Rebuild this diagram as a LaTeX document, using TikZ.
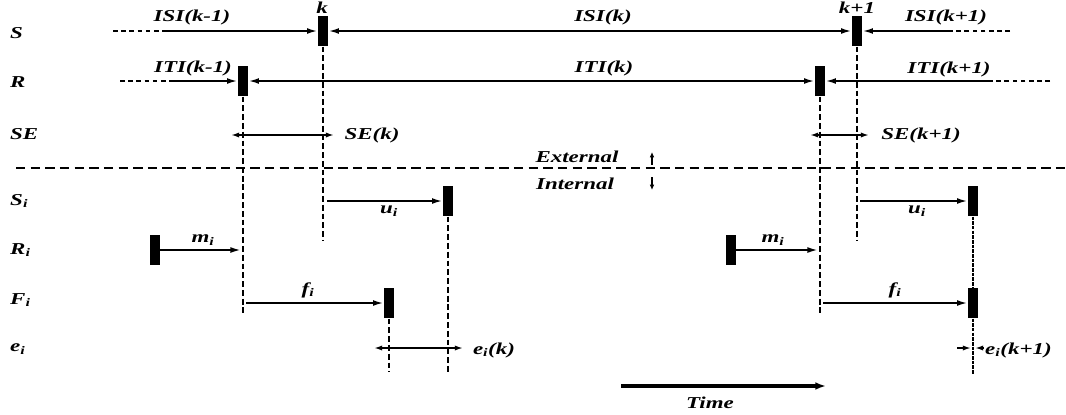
\documentclass[tikz,border=0pt]{standalone}
\usepackage{fontspec}
\setmainfont{Liberation Serif}
\newfontfamily\lblfont[FakeStretch=1.38]{Liberation Serif}
\usetikzlibrary{arrows.meta}
\newcommand\sbi{\textsubscript{i}}
\tikzset{
 lbl/.style={font=\lblfont\bfseries\itshape\fontsize{14.2}{16}\selectfont, inner sep=0pt},
 bar/.style={fill=black, draw=none, minimum width=0.31cm, minimum height=0.92cm, inner sep=0pt},
 arr/.style={line width=1.6pt, -{Latex[length=9pt,width=5pt]}},
 dbl/.style={line width=1.6pt, {Latex[length=9pt,width=5pt]}-{Latex[length=9pt,width=5pt]}},
 sdbl/.style={line width=1.6pt, {Latex[length=7pt,width=4.5pt]}-{Latex[length=7pt,width=4.5pt]}},
 sarr/.style={line width=1.6pt, -{Latex[length=7pt,width=4.5pt]}},
 ext/.style={line width=1.3pt, dash pattern=on 4pt off 3pt},
 vdash/.style={line width=1.5pt, dash pattern=on 5pt off 2.5pt},
 ddash/.style={line width=1.5pt, dash pattern=on 3pt off 1pt},
 sep/.style={line width=2.1pt, dash pattern=on 8pt off 4.5pt},
}
\begin{document}
\begin{tikzpicture}[x=0.03cm,y=-0.03cm]
\useasboundingbox (0,0) rectangle (1066,414);
% row labels
\node[lbl,anchor=west] (lS) at (10,33) {S};
\node[lbl,anchor=west] (lR) at (10,82) {R};
\node[lbl,anchor=west] (lSE) at (10,134) {SE};
\node[lbl,anchor=west] (lSi) at (10,201) {S\sbi};
\node[lbl,anchor=west] (lRi) at (10,250) {R\sbi};
\node[lbl,anchor=west] (lFi) at (10,300) {F\sbi};
\node[lbl,anchor=west] (lei) at (10,349) {e\sbi};
% markers
\node[bar] (sk) at (323,31) {};
\node[bar] (sk1) at (857,31) {};
\node[bar] (rk) at (243,81) {};
\node[bar] (rk1) at (820,81) {};
\node[bar] (si) at (448,201) {};
\node[bar] (si1) at (973,201) {};
\node[bar] (ri) at (155,250) {};
\node[bar] (ri1) at (731,250) {};
\node[bar] (fi) at (389,303) {};
\node[bar] (fi1) at (973,303) {};
% free ends
\coordinate (s0) at (113,31); \coordinate (s1) at (165,31);
\coordinate (s2) at (1010,31); \coordinate (s3) at (950,31);
\coordinate (r0) at (120,81); \coordinate (r1) at (170,81);
\coordinate (r2) at (1050,81); \coordinate (r3) at (991,81);
% S row
\draw[ext] (s0) -- (s1);
\draw[arr] (s1) -- (sk.west);
\draw[dbl] (sk.east) -- (sk1.west);
\draw[ext] (s2) -- (s3);
\draw[arr] (s3) -- (sk1.east);
% R row
\draw[ext] (r0) -- (r1);
\draw[arr] (r1) -- (rk.west);
\draw[dbl] (rk.east) -- (rk1.west);
\draw[ext] (r2) -- (r3);
\draw[arr] (r3) -- (rk1.east);
% top labels
\node[lbl] (tISIa) at (192,17) {ISI(k-1)};
\node[lbl] (tk) at (322,7.5) {k};
\node[lbl] (tISIb) at (603,17) {ISI(k)};
\node[lbl] (tk1) at (857,7.5) {k+1};
\node[lbl] (tISIc) at (946,17) {ISI(k+1)};
\node[lbl] (tITIa) at (193,68) {ITI(k-1)};
\node[lbl] (tITIb) at (604,68) {ITI(k)};
\node[lbl] (tITIc) at (949,69) {ITI(k+1)};
% verticals
\coordinate (v1) at (243,314); \coordinate (v2) at (323,241);
\coordinate (v3) at (820,315); \coordinate (v4) at (857,241);
\draw[vdash] (rk.south) -- (v1);
\draw[vdash] (sk.south) -- (v2);
\draw[vdash] (rk1.south) -- (v3);
\draw[vdash] (sk1.south) -- (v4);
% SE
\coordinate (se1) at (231,135); \coordinate (se2) at (334,135);
\coordinate (se3) at (810,135); \coordinate (se4) at (869,135);
\draw[sdbl] (se1) -- (se2);
\draw[sdbl] (se3) -- (se4);
\node[lbl] (tSEk) at (372,135) {SE(k)};
\node[lbl] (tSEk1) at (921,135) {SE(k+1)};
% separator
\coordinate (d0) at (16,168); \coordinate (d1) at (1066,168);
\draw[sep] (d0) -- (d1);
\node[lbl] (tExt) at (577,157) {External};
\node[lbl] (tInt) at (575,184) {Internal};
\coordinate (up0) at (652,165); \coordinate (up1) at (652,152);
\coordinate (dn0) at (652,177); \coordinate (dn1) at (652,190);
\draw[line width=1.3pt,-{Latex[length=4.5pt,width=4pt]}] (up0) -- (up1);
\draw[line width=1.3pt,-{Latex[length=4.5pt,width=4pt]}] (dn0) -- (dn1);
% S_i
\coordinate (u0) at (327,201); \coordinate (u1) at (860,201);
\draw[arr] (u0) -- (si.west);
\draw[arr] (u1) -- (si1.west);
\node[lbl] (tu1) at (389,211) {u\sbi};
\node[lbl] (tu2) at (917,211) {u\sbi};
% R_i
\coordinate (m0) at (241,250); \coordinate (m1) at (818,250);
\draw[arr] (ri.east) -- (m0);
\draw[arr] (ri1.east) -- (m1);
\node[lbl] (tm1) at (203,240) {m\sbi};
\node[lbl] (tm2) at (773,240) {m\sbi};
% F_i
\coordinate (f0) at (246,303); \coordinate (f1) at (823,303);
\draw[arr] (f0) -- (fi.west);
\draw[arr] (f1) -- (fi1.west);
\node[lbl] (tf1) at (308,290) {f\sbi};
\node[lbl] (tf2) at (895,290) {f\sbi};
% lower verticals
\coordinate (w1) at (448,372); \coordinate (w2) at (389,372); \coordinate (w3) at (973,374);
\draw[vdash] (si.south) -- (w1);
\draw[vdash] (fi.south) -- (w2);
\draw[ddash] (si1.south) -- (fi1.north);
\draw[ddash] (fi1.south) -- (w3);
% e_i
\coordinate (e0) at (374,348); \coordinate (e1) at (463,348);
\draw[sdbl] (e0) -- (e1);
\node[lbl] (tek) at (494,350) {e\sbi(k)};
\coordinate (e2) at (957,348); \coordinate (e3) at (971,348);
\coordinate (e4) at (984,348); \coordinate (e5) at (975,348);
\draw[sarr] (e2) -- (e3);
\draw[sarr] (e4) -- (e5);
\node[lbl,anchor=west] (tek1) at (985,350) {e\sbi(k+1)};
% time
\coordinate (t0) at (621,386); \coordinate (t1) at (826,386);
\draw[line width=3pt,-{Latex[length=9pt,width=6.5pt]}] (t0) -- (t1);
\node[lbl] (tTime) at (710,403) {Time};
\end{tikzpicture}
\end{document}
